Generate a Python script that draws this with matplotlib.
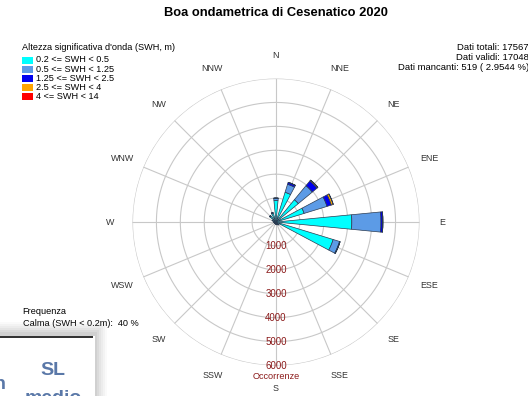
import numpy as np
import matplotlib
matplotlib.use('agg')
import matplotlib.pyplot as plt
from matplotlib.patches import Rectangle

plt.rcParams['font.family'] = ['Liberation Sans', 'DejaVu Sans']

# wave rose: occurrences per direction, one list per SWH class
directions = ['N', 'NNE', 'NE', 'ENE', 'E', 'ESE', 'SE', 'SSE',
              'S', 'SSW', 'SW', 'WSW', 'W', 'WNW', 'NW', 'NNW']
classes = ['0.2 <= SWH < 0.5', '0.5 <= SWH < 1.25', '1.25 <= SWH < 2.5',
           '2.5 <= SWH < 4', '4 <= SWH < 14']
colors = ['#00ffff', '#5c9be6', '#0000ee', '#ffa500', '#ff0000']

swh_02_05 = [900, 1300, 1210, 1230, 3170, 2500, 140, 110, 90, 70, 70, 70, 90, 150, 320, 380]
swh_05_125 = [90, 350, 760, 1000, 1220, 280, 15, 10, 8, 5, 5, 5, 8, 15, 25, 30]
swh_125_25 = [10, 80, 260, 190, 70, 20, 3, 2, 2, 1, 1, 1, 2, 3, 5, 5]
swh_25_4 = [0, 5, 40, 80, 10, 2, 0, 0, 0, 0, 0, 0, 0, 0, 1, 1]
swh_4_14 = [0, 0, 5, 10, 2, 0, 0, 0, 0, 0, 0, 0, 0, 0, 0, 0]
series = [swh_02_05, swh_05_125, swh_125_25, swh_25_4, swh_4_14]

r_ticks = [1000, 2000, 3000, 4000, 5000, 6000]

fig = plt.figure(figsize=(5.28, 3.96), dpi=100)
ax = fig.add_axes([0.2509, 0.0770, 0.5436, 0.7247], projection='polar')
ax.set_theta_zero_location('N')
ax.set_theta_direction(-1)
ax.set_ylim(0, 6000)

theta = np.deg2rad(np.arange(16) * 22.5)
width = np.deg2rad(11.0)

# stacked wedges
bottom = np.zeros(16)
for vals, col in zip(series, colors):
    vals = np.array(vals, dtype=float)
    ax.bar(theta, vals, width=width, bottom=bottom, color=col,
           edgecolor='#2a3a50', linewidth=0.5, zorder=3)
    bottom += vals

# grid
ax.grid(False)
ax.spines['polar'].set_visible(False)
ax.set_xticks([])
ax.set_yticks([])
tt = np.linspace(0, 2 * np.pi, 400)
for r in r_ticks:
    ax.plot(tt, np.full_like(tt, r), color='#c8c8c8', lw=0.8, zorder=1)
for t in theta:
    ax.plot([t, t], [0, 6000], color='#c8c8c8', lw=0.8, zorder=1)

for t, name in zip(theta, directions):
    ax.text(t, 6950, name, ha='center', va='center', fontsize=6.4,
            color='#333333', clip_on=False)

for r in r_ticks:
    ax.text(np.pi, r, str(r), ha='center', va='center', fontsize=7,
            color='#8b1a1a', zorder=4)
ax.text(np.pi, 6450, 'Occorrenze', ha='center', va='center', fontsize=6.6,
        color='#8b1a1a', clip_on=False)

fig.text(276 / 528, 1 - 13 / 396, 'Boa ondametrica di Cesenatico 2020',
         ha='center', va='center', fontsize=9.3, fontweight='bold')

# legend of SWH classes
fig.text(22 / 528, 1 - 47 / 396, "Altezza significativa d'onda (SWH, m)",
         ha='left', va='center', fontsize=6.6)
for i, (lab, col) in enumerate(zip(classes, colors)):
    y = 60 + i * 9.1
    fig.patches.append(Rectangle((22 / 528, 1 - (y + 3.5) / 396), 11 / 528, 7 / 396,
                                 transform=fig.transFigure, facecolor=col,
                                 edgecolor='none'))
    fig.text(36 / 528, 1 - y / 396, lab, ha='left', va='center', fontsize=6.6)

# data counts
info = ['Dati totali: 17567', 'Dati validi: 17048',
        'Dati mancanti: 519 ( 2.9544 %)']
for i, s in enumerate(info):
    fig.text(529 / 528, 1 - (48 + i * 10) / 396, s, ha='right', va='center',
             fontsize=6.8)

fig.text(22 / 528, 1 - 312 / 396, 'Frequenza', ha='left', va='center', fontsize=6.6)
fig.text(23 / 528, 1 - 324 / 396, 'Calma (SWH < 0.2m):  40 %', ha='left',
         va='center', fontsize=6.6)

# pasted panel in the lower left corner with soft shadow
for k, a in enumerate([0.04, 0.05, 0.06, 0.07, 0.09, 0.11]):
    off = 12 - 2 * k
    fig.patches.append(Rectangle((0, 0), (95 + off) / 528, (62 + off) / 396,
                                 transform=fig.transFigure, facecolor='#808080',
                                 alpha=a, edgecolor='none', zorder=5))
fig.patches.append(Rectangle((0, 0), 95 / 528, 60 / 396, transform=fig.transFigure,
                             facecolor='white', edgecolor='none', zorder=6))
fig.patches.append(Rectangle((0, 58.5 / 396), 93 / 528, 1.6 / 396,
                             transform=fig.transFigure, facecolor='#333333',
                             edgecolor='none', zorder=7))
panel_font = dict(fontsize=14, fontweight='bold', color='#5a78a8', zorder=8)
fig.text(53 / 528, 1 - 375 / 396, 'SL', ha='center', va='baseline', **panel_font)
fig.text(53 / 528, 1 - 403 / 396, 'medio', ha='center', va='baseline', **panel_font)
fig.text(6 / 528, 1 - 389 / 396, 'n', ha='right', va='baseline', **panel_font)

fig.savefig('out.png', dpi=100)
